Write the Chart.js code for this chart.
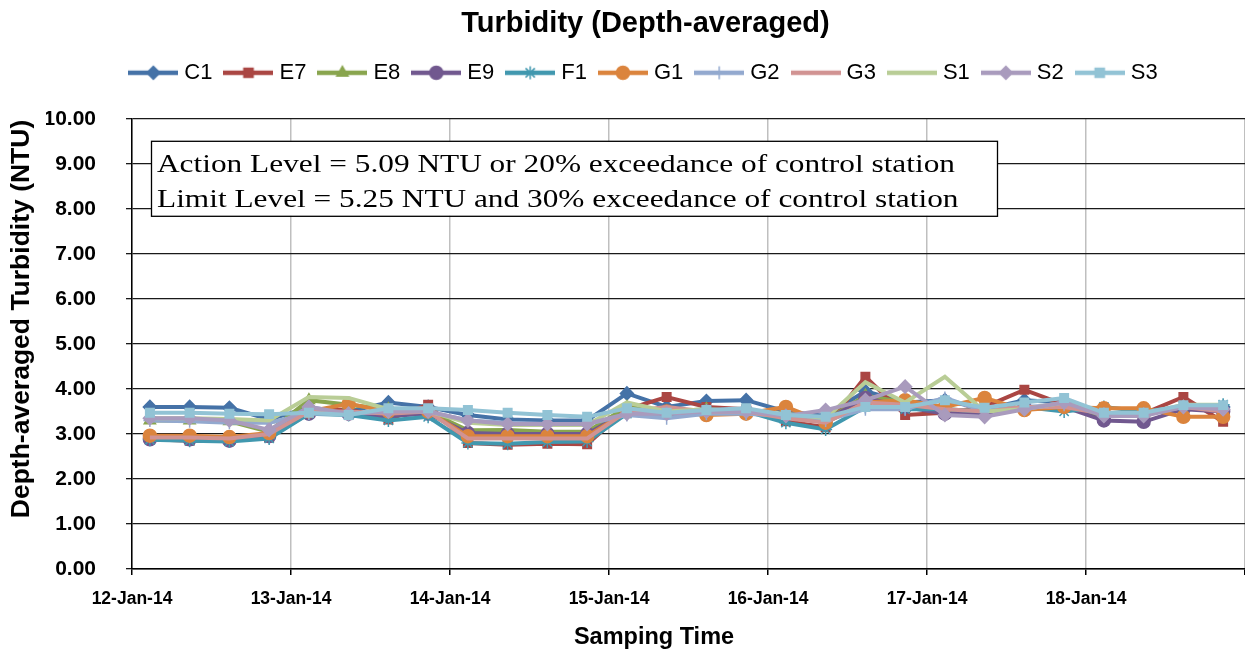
<!DOCTYPE html>
<html>
<head>
<meta charset="utf-8">
<script src="https://cdn.jsdelivr.net/npm/chart.js@4/dist/chart.umd.min.js"></script>
<style>
  html, body { margin: 0; padding: 0; background: #fff; }
  #wrap { width: 1245px; height: 655px; position: relative; }
</style>
</head>
<body>
<div id="wrap"><canvas id="c" width="1245" height="655"></canvas></div>
<script>
// ---- data ----
const dayLabels = ['12-Jan-14', '13-Jan-14', '14-Jan-14', '15-Jan-14', '16-Jan-14', '17-Jan-14', '18-Jan-14', ''];
// sampling times, in hours after 12-Jan-14 00:00
const sampleHours = [2.7, 8.7, 14.7, 20.7, 26.7, 32.7, 38.7, 44.7, 50.7, 56.7, 62.7, 68.7, 74.7, 80.7,
  86.7, 92.7, 98.7, 104.7, 110.7, 116.7, 122.7, 128.7, 134.7, 140.7, 146.7, 152.7, 158.7, 164.7];
const stationNames = ['C1', 'E7', 'E8', 'E9', 'F1', 'G1', 'G2', 'G3', 'S1', 'S2', 'S3'];
const C1 = [3.60, 3.60, 3.58, 3.32, 3.58, 3.50, 3.70, 3.60, 3.42, 3.32, 3.30, 3.30, 3.90, 3.60, 3.73, 3.75, 3.50, 3.40, 3.95, 3.70, 3.75, 3.55, 3.75, 3.70, 3.45, 3.45, 3.60, 3.60];
const E7 = [2.88, 2.85, 2.85, 2.92, 3.50, 3.55, 3.32, 3.65, 2.80, 2.76, 2.78, 2.77, 3.55, 3.82, 3.60, 3.55, 3.28, 3.15, 4.27, 3.42, 3.47, 3.60, 3.98, 3.65, 3.45, 3.45, 3.82, 3.27];
const E8 = [3.30, 3.30, 3.28, 3.05, 3.75, 3.65, 3.55, 3.50, 3.08, 3.09, 3.05, 3.05, 3.60, 3.50, 3.55, 3.50, 3.40, 3.30, 3.85, 3.70, 3.55, 3.50, 3.60, 3.60, 3.40, 3.45, 3.60, 3.50];
const E9 = [2.88, 2.88, 2.85, 2.95, 3.45, 3.45, 3.40, 3.45, 3.02, 3.00, 3.00, 3.00, 3.50, 3.50, 3.50, 3.50, 3.40, 3.30, 3.80, 3.60, 3.45, 3.45, 3.60, 3.60, 3.30, 3.27, 3.55, 3.50];
const F1 = [2.87, 2.85, 2.83, 2.90, 3.45, 3.42, 3.30, 3.38, 2.80, 2.78, 2.82, 2.83, 3.45, 3.45, 3.45, 3.50, 3.25, 3.10, 3.60, 3.55, 3.55, 3.50, 3.60, 3.50, 3.60, 3.50, 3.60, 3.65];
const G1 = [2.96, 2.96, 2.93, 3.02, 3.50, 3.67, 3.50, 3.50, 2.95, 2.95, 2.95, 2.95, 3.50, 3.50, 3.42, 3.45, 3.60, 3.25, 3.70, 3.75, 3.60, 3.80, 3.53, 3.60, 3.57, 3.57, 3.38, 3.38];
const G2 = [3.30, 3.28, 3.25, 3.25, 3.45, 3.45, 3.50, 3.50, 3.30, 3.25, 3.22, 3.22, 3.42, 3.35, 3.45, 3.45, 3.40, 3.30, 3.55, 3.55, 3.80, 3.50, 3.60, 3.65, 3.45, 3.45, 3.60, 3.55];
const G3 = [2.92, 2.92, 2.90, 3.00, 3.50, 3.50, 3.45, 3.50, 2.90, 2.90, 2.90, 2.90, 3.50, 3.60, 3.50, 3.50, 3.35, 3.25, 3.70, 3.65, 3.55, 3.50, 3.60, 3.60, 3.45, 3.45, 3.60, 3.50];
const S1 = [3.35, 3.35, 3.33, 3.30, 3.82, 3.80, 3.55, 3.50, 3.25, 3.20, 3.20, 3.20, 3.70, 3.50, 3.55, 3.50, 3.45, 3.35, 4.15, 3.70, 4.27, 3.50, 3.55, 3.70, 3.45, 3.45, 3.65, 3.65];
const S2 = [3.35, 3.35, 3.30, 3.09, 3.60, 3.45, 3.50, 3.50, 3.30, 3.22, 3.22, 3.22, 3.45, 3.45, 3.50, 3.50, 3.40, 3.53, 3.75, 4.05, 3.42, 3.38, 3.55, 3.70, 3.40, 3.40, 3.60, 3.55];
const S3 = [3.47, 3.47, 3.45, 3.44, 3.47, 3.42, 3.57, 3.57, 3.53, 3.47, 3.42, 3.38, 3.57, 3.47, 3.53, 3.57, 3.42, 3.38, 3.60, 3.60, 3.75, 3.58, 3.70, 3.80, 3.47, 3.47, 3.64, 3.64];
const seriesValues = [C1, E7, E8, E9, F1, G1, G2, G3, S1, S2, S3];
const yTicks = [0, 1, 2, 3, 4, 5, 6, 7, 8, 9, 10];
const chartTitle = 'Turbidity (Depth-averaged)';
const xTitle = 'Samping Time';
const yTitle = 'Depth-averaged Turbidity (NTU)';
const noteLines = ['Action Level = 5.09 NTU or 20% exceedance of control station',
                   'Limit Level = 5.25 NTU and 30% exceedance of control station'];

// ---- styles ----
const colors = ['#4572A7', '#AA4643', '#89A54E', '#71588F', '#4198AF', '#DB843D', '#93A9CF', '#D19392', '#B9CD96', '#A99BBD', '#92C3D5'];
const markers = ['rectRot', 'rect', 'triangle', 'circle', 'star', 'circle', 'cross', false, false, 'rectRot', 'rect'];
const markerRadius = [6.5, 6, 6.5, 6.5, 6.5, 6.5, 6.5, 0, 0, 6.5, 6];
const FONT = "'Liberation Sans', Arial, sans-serif";

function drawMarker(ctx, style, r, x, y, color) {
  if (!style) return;
  ctx.fillStyle = color; ctx.strokeStyle = color; ctx.lineWidth = 1.5;
  if (Chart.helpers && Chart.helpers.drawPoint) {
    Chart.helpers.drawPoint(ctx, {pointStyle: style, radius: r, rotation: 0, borderWidth: 1.5}, x, y);
  } else {
    ctx.beginPath(); ctx.arc(x, y, r, 0, Math.PI * 2); ctx.fill();
  }
}
function legendImage(i) {
  const cv = document.createElement('canvas');
  cv.width = 50; cv.height = 18;
  const ctx = cv.getContext('2d');
  ctx.strokeStyle = colors[i]; ctx.lineWidth = 4.5; ctx.lineCap = 'butt';
  ctx.beginPath(); ctx.moveTo(0, 9); ctx.lineTo(50, 9); ctx.stroke();
  drawMarker(ctx, markers[i], 6.5, 25, 9, colors[i]);
  return cv;
}

const datasets = stationNames.map((name, i) => ({
  label: name,
  data: seriesValues[i].map((v, k) => ({x: sampleHours[k] / 24, y: v})),
  borderColor: colors[i],
  backgroundColor: colors[i],
  borderWidth: 4,
  pointStyle: markers[i] || 'circle',
  pointRadius: markerRadius[i],
  pointHoverRadius: markerRadius[i],
  pointBorderWidth: 1.5,
  pointBorderColor: colors[i],
  pointBackgroundColor: colors[i],
  order: stationNames.length - i,
  tension: 0,
  fill: false
}));

const layoutPlugin = {
  id: 'layoutTweak',
  beforeLayout(chart) {
    const lg = chart.legend;
    if (lg && !lg._patched) {
      const orig = lg.fit;
      lg.fit = function () { orig.call(this); this.height += 25; };
      lg._patched = true;
    }
  }
};

const textPlugin = {
  id: 'texts',
  afterDraw(chart) {
    const ctx = chart.ctx;
    ctx.save();
    ctx.fillStyle = '#000';
    ctx.textAlign = 'center';
    ctx.textBaseline = 'middle';
    ctx.font = "bold 23.5px " + FONT;
    ctx.fillText(xTitle, 654, 638);
    ctx.translate(22, 319);
    ctx.rotate(-Math.PI / 2);
    ctx.font = "bold 26.5px " + FONT;
    ctx.fillText(yTitle, 0, 0);
    ctx.restore();
  },
  afterDatasetsDraw(chart) {
    const ctx = chart.ctx, a = chart.chartArea;
    const x0 = a.left + 19, y0 = a.top + 22, w = 846, h = 75;
    ctx.save();
    ctx.fillStyle = '#fff';
    ctx.fillRect(x0, y0, w, h);
    ctx.strokeStyle = '#000'; ctx.lineWidth = 1.3;
    ctx.strokeRect(x0 + 0.5, y0 + 0.5, w, h);
    ctx.fillStyle = '#000';
    ctx.textBaseline = 'alphabetic';
    ctx.textAlign = 'left';
    ctx.font = "25px 'Liberation Serif', serif";
    const sx = 798 / ctx.measureText(noteLines[0]).width;
    ctx.translate(x0 + 6, y0);
    ctx.scale(sx, 1);
    ctx.fillText(noteLines[0], 0, 31);
    ctx.fillText(noteLines[1], 0, 66);
    ctx.restore();
  }
};

new Chart(document.getElementById('c'), {
  type: 'line',
  data: {datasets},
  plugins: [layoutPlugin, textPlugin],
  options: {
    responsive: false,
    animation: false,
    layout: {autoPadding: false, padding: {left: 46, right: 0, top: 0, bottom: 0}},
    plugins: {
      title: {
        display: true,
        text: chartTitle,
        color: '#000',
        font: {family: FONT, size: 29, weight: 'bold'},
        padding: {top: 7, bottom: 4}
      },
      legend: {
        display: true,
        position: 'top',
        labels: {
          color: '#000',
          font: {family: FONT, size: 22},
          usePointStyle: true,
          pointStyleWidth: 40,
          boxHeight: 18,
          padding: 16,
          generateLabels(chart) {
            return chart.data.datasets.map((d, i) => ({
              text: d.label,
              pointStyle: legendImage(i),
              fillStyle: colors[i],
              strokeStyle: colors[i],
              lineWidth: 0,
              fontColor: '#000',
              hidden: false,
              datasetIndex: i
            }));
          }
        }
      },
      tooltip: {enabled: false}
    },
    scales: {
      x: {
        type: 'linear',
        min: 0, max: 7,
        afterFit(scale) { scale.height = 86; scale.paddingRight = 0; },
        ticks: {
          stepSize: 1,
          autoSkip: false,
          maxRotation: 0,
          color: '#000',
          font: {family: FONT, size: 17.5, weight: 'bold'},
          padding: 14,
          callback: (v) => dayLabels[Math.round(v)] || ''
        },
        grid: {color: '#BFBFBF', lineWidth: 1.5, drawTicks: true, tickLength: 6, tickColor: '#000'},
        border: {color: '#000', width: 1.5}
      },
      y: {
        min: 0, max: 10,
        afterFit(scale) { scale.width = 86; },
        afterBuildTicks(scale) { scale.ticks = yTicks.map(v => ({value: v})); },
        ticks: {
          color: '#000',
          font: {family: FONT, size: 21, weight: 'bold'},
          padding: 30,
          callback: (v) => Number(v).toFixed(2)
        },
        grid: {color: '#1a1a1a', lineWidth: 1.3, tickLength: 6},
        border: {color: '#000', width: 1.5}
      }
    }
  }
});
</script>
</body>
</html>
